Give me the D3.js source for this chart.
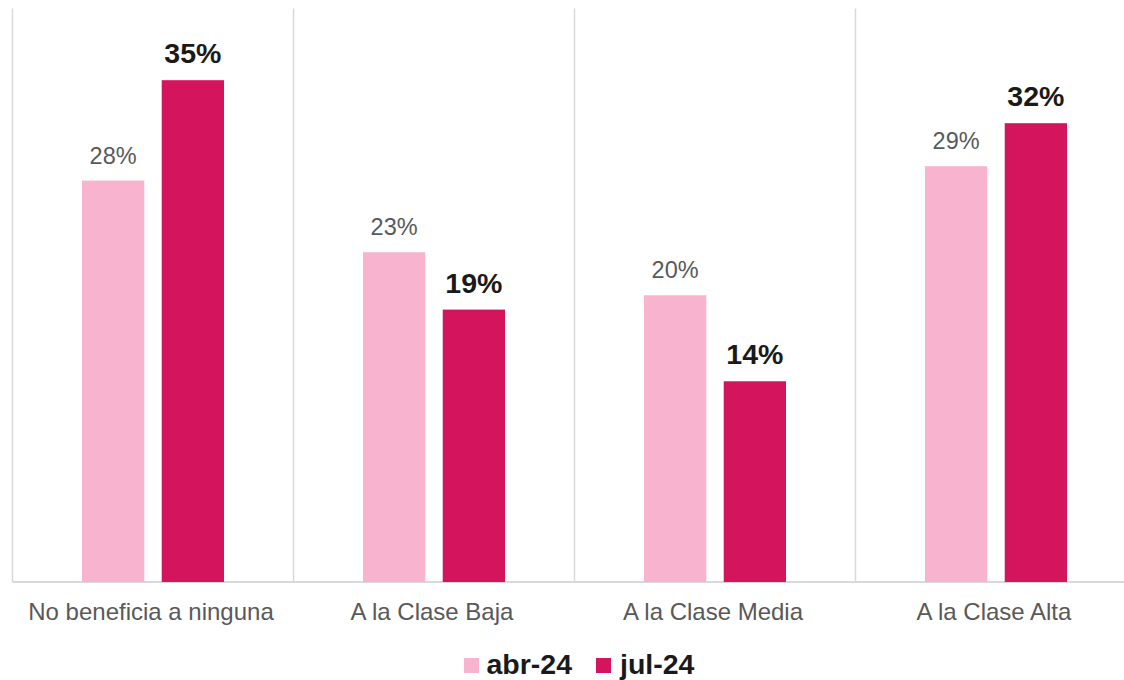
<!DOCTYPE html>
<html>
<head>
<meta charset="utf-8">
<script src="https://cdn.jsdelivr.net/npm/d3@7"></script>
<style>
  body { margin: 0; background: #fff; }
  svg { display: block; font-family: "Liberation Sans", Arial, sans-serif; }
</style>
</head>
<body>
<svg id="chart" width="1124" height="680"></svg>
<script>
// Chart data
var categories = ["No beneficia a ninguna", "A la Clase Baja", "A la Clase Media", "A la Clase Alta"];
var series = ["abr-24", "jul-24"];
var abr24 = [28, 23, 20, 29];
var jul24 = [35, 19, 14, 32];
var colors = ["#F8B4CF", "#D4145C"];

var values = [abr24, jul24];

var svg = d3.select("#chart");

// Scales
var x = d3.scaleBand().domain(categories).range([12.5, 1136.5]).padding(0);
var xs = d3.scaleBand().domain(series).range([69.5, 211.5]).paddingInner(0.21875).paddingOuter(0);
var y = d3.scaleLinear().domain([0, 40]).range([582, 8.5]);

// Vertical separators between categories
var bounds = categories.map(function (c) { return x(c); }).concat([x.range()[1]]);
svg.append("g").selectAll("line")
  .data(bounds)
  .enter().append("line")
  .attr("x1", function (d) { return d; })
  .attr("x2", function (d) { return d; })
  .attr("y1", y(40))
  .attr("y2", y(0))
  .attr("stroke", "#d9d9d9")
  .attr("stroke-width", 1.5);

// Baseline
svg.append("line")
  .attr("x1", x.range()[0]).attr("x2", x.range()[1])
  .attr("y1", y(0)).attr("y2", y(0))
  .attr("stroke", "#d9d9d9")
  .attr("stroke-width", 2);

// Bars + labels
var rows = [];
categories.forEach(function (c, i) {
  series.forEach(function (s, j) {
    rows.push({ cat: c, series: s, idx: j, value: values[j][i] });
  });
});

var bars = svg.append("g");
bars.selectAll("rect")
  .data(rows)
  .enter().append("rect")
  .attr("x", function (d) { return x(d.cat) + xs(d.series); })
  .attr("y", function (d) { return y(d.value); })
  .attr("width", xs.bandwidth())
  .attr("height", function (d) { return y(0) - y(d.value); })
  .attr("fill", function (d) { return colors[d.idx]; });

bars.selectAll("text")
  .data(rows)
  .enter().append("text")
  .attr("x", function (d) { return x(d.cat) + xs(d.series) + xs.bandwidth() / 2; })
  .attr("y", function (d) { return y(d.value) - 17; })
  .attr("text-anchor", "middle")
  .style("font-size", function (d) { return d.idx ? "28.5px" : "23.5px"; })
  .style("font-weight", function (d) { return d.idx ? "bold" : "normal"; })
  .attr("fill", function (d) { return d.idx ? "#1a1a1a" : "#595959"; })
  .text(function (d) { return d.value + "%"; });

// Category labels
svg.append("g").selectAll("text")
  .data(categories)
  .enter().append("text")
  .attr("x", function (d) { return x(d) + x.bandwidth() / 2 - 2; })
  .attr("y", 620)
  .attr("text-anchor", "middle")
  .style("font-size", "24px")
  .attr("fill", "#595959")
  .text(function (d) { return d; });

// Legend
var legendX = [464, 596];
var legend = svg.append("g").selectAll("g")
  .data(series)
  .enter().append("g")
  .attr("transform", function (d, i) { return "translate(" + legendX[i] + ",0)"; });

legend.append("rect")
  .attr("x", 0).attr("y", 658)
  .attr("width", 15).attr("height", 15)
  .attr("fill", function (d, i) { return colors[i]; });

legend.append("text")
  .attr("x", function (d, i) { return i ? 24 : 22.5; })
  .attr("y", 674)
  .style("font-size", "28.5px")
  .style("font-weight", "bold")
  .attr("fill", "#1a1a1a")
  .text(function (d) { return d; });
</script>
</body>
</html>
